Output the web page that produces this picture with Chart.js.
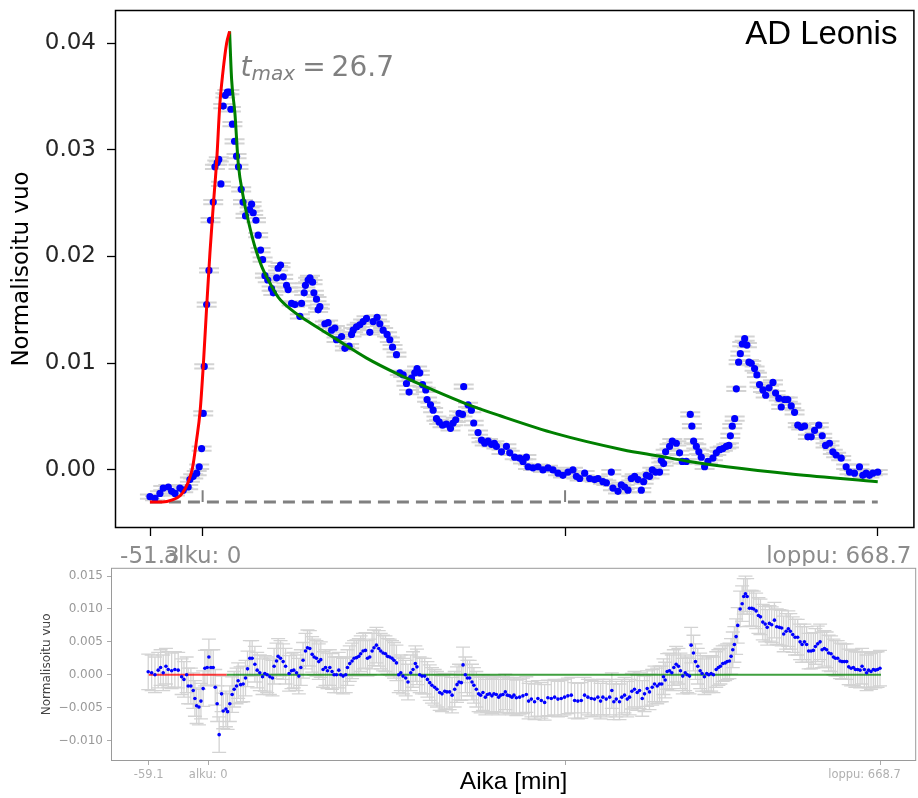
<!DOCTYPE html>
<html>
<head>
<meta charset="utf-8">
<script src="https://cdn.jsdelivr.net/npm/chart.js@4.4.1/dist/chart.umd.min.js"></script>
<style>
  html, body { margin: 0; padding: 0; background: #ffffff; }
  #wrap { position: relative; width: 918px; height: 798px; }
  canvas { position: absolute; left: 0; }
  #fluxChart { top: 0; }
  #residualChart { top: 566px; }
</style>
</head>
<body>
<div id="wrap">
  <canvas id="fluxChart" width="918" height="566"></canvas>
  <canvas id="residualChart" width="918" height="232"></canvas>
</div>
<script>
// ---- Light curve of the AD Leonis flare (time in minutes from flare start) ----
const fluxTime = [
  -52.2, -47.2, -42.3, -39.0, -34.0, -30.7, -27.4, -22.5, -19.2, -14.3, -12.6, -9.3, -5.9, -3.4, -1.0,
  0.6, 1.6, 4.0, 6.3, 7.8, 10.5, 12.2, 14.5, 16.0, 18.1, 20.4, 22.5, 24.5, 26.5, 28.0, 29.5, 31.6, 33.6,
  35.5, 38.2, 40.0, 42.5, 46.5, 48.5, 50.1, 52.8, 55.0, 57.4, 59.4, 61.7, 64.5, 68.3, 70.0, 73.3, 74.8,
  77.2, 79.8, 83.1, 84.7, 88.1, 91.4, 96.3, 98.0, 100.6, 101.8, 104.5, 106.3, 108.9, 110.2, 112.8, 114.4,
  116.1, 121.1, 124.3, 127.7, 131.0, 132.6, 137.6, 140.9, 145.1, 147.5, 149.1, 152.4, 155.7, 159.0, 162.3,
  165.6, 168.9, 172.8, 175.5, 178.8, 182.7, 185.4, 188.1, 192.0, 195.3, 198.6, 201.9, 204.5, 206.9, 210.1,
  212.4, 215.1, 217.8, 221.0, 222.3, 225.7, 228.3, 231.6, 234.2, 237.6, 241.5, 245.5, 248.1, 250.7, 254.0,
  257.4, 258.6, 262.9, 266.2, 268.5, 272.8, 276.2, 279.4, 282.7, 286.1, 289.0, 291.0, 296.0, 300.9, 304.2,
  309.1, 314.1, 317.3, 320.7, 322.3, 327.2, 332.2, 337.1, 342.1, 347.0, 352.0, 356.9, 361.9, 366.8, 370.2,
  373.5, 378.4, 383.4, 388.3, 391.6, 396.5, 399.9, 404.8, 406.4, 411.4, 414.7, 418.0, 421.3, 424.6, 427.9,
  431.2, 434.5, 436.8, 439.5, 442.7, 445.4, 448.7, 452.6, 454.3, 456.6, 458.6, 462.5, 465.2, 469.2, 472.4,
  475.1, 479.1, 483.0, 484.6, 486.3, 489.0, 491.5, 493.9, 497.2, 500.5, 505.4, 508.8, 512.1, 515.3, 518.7,
  521.3, 522.7, 524.6, 527.0, 528.6, 530.9, 532.6, 534.5, 536.9, 539.1, 541.1, 543.4, 546.7, 549.0, 551.6,
  555.0, 557.7, 561.0, 564.9, 567.5, 570.7, 573.1, 576.3, 579.6, 583.0, 586.3, 589.5, 592.9, 596.2, 599.5,
  602.8, 606.1, 610.3, 613.7, 617.0, 620.9, 624.2, 627.5, 632.5, 637.4, 640.7, 645.6, 650.6, 653.9, 657.2,
  660.5, 663.8, 668.7
];
const fluxValue = [
  -0.0025, -0.00265, -0.0022, -0.0017, -0.0016, -0.0020, -0.0022, -0.0017, -0.0019, -0.0016, -0.0009, -0.0006, -0.0003, 0.0003, 0.0020,
  0.0053, 0.0097, 0.0155, 0.0187, 0.0234, 0.0251, 0.0284, 0.0288, 0.0291, 0.0268, 0.0341, 0.0351, 0.0354, 0.0354, 0.0338, 0.0324, 0.0308, 0.0294,
  0.0284, 0.0263, 0.0251, 0.0238, 0.0244, 0.0249, 0.0241, 0.0234, 0.0220, 0.0206, 0.0197, 0.0182, 0.0178, 0.0170, 0.0166, 0.0180, 0.0189,
  0.0192, 0.0181, 0.0173, 0.0169, 0.0156, 0.0155, 0.0144, 0.0156, 0.0166, 0.0173, 0.0178, 0.0180, 0.0176, 0.0166, 0.0160, 0.0150,
  0.0153, 0.0137, 0.0138, 0.0131, 0.0133, 0.0122, 0.0125, 0.0114, 0.0116, 0.0127, 0.0131, 0.0134, 0.0136, 0.0139, 0.0142,
  0.0129, 0.0139, 0.0143, 0.0137, 0.0131, 0.0127, 0.0122, 0.0115, 0.0108, 0.0091, 0.0089, 0.0081, 0.0073, 0.0086, 0.0091,
  0.0095, 0.0091, 0.0080, 0.0075, 0.0066, 0.0061, 0.0056, 0.0048, 0.0045, 0.0042, 0.0043, 0.0039, 0.0044, 0.0047, 0.0053,
  0.0052, 0.0078, 0.0061, 0.0056, 0.0044, 0.0035, 0.0028, 0.0025, 0.0027, 0.0024, 0.0025, 0.0022, 0.0017, 0.0022, 0.0016,
  0.0012, 0.0011, 0.0008, 0.0012, 0.0003, 0.0002, 0.0003, 0.0000, 0.0002, 0.0000, -0.0003, -0.0005, -0.0002, 0.0000, -0.0006,
  -0.0008, -0.0003, -0.0008, -0.0009, -0.0008, -0.0011, -0.0012, -0.0002, -0.0017, -0.0020, -0.0014, -0.0016, -0.0019, -0.0008, -0.0006,
  -0.0009, -0.0019, -0.0011, -0.0005, -0.0006, 0.0000, -0.0002, -0.0002, 0.0009, 0.0006, 0.0017, 0.0022, 0.0027, 0.0025, 0.0016,
  0.0008, 0.0008, 0.0052, 0.0041, 0.0027, 0.0022, 0.0017, 0.0012, 0.0003, 0.0008, 0.0011, 0.0016, 0.0019, 0.0020, 0.0022,
  0.0023, 0.0032, 0.0041, 0.0048, 0.0076, 0.0101, 0.0109, 0.0118, 0.0123, 0.0117, 0.0101, 0.0100, 0.0095, 0.0089, 0.0080,
  0.0075, 0.0070, 0.0077, 0.0082, 0.0072, 0.0067, 0.0059, 0.0066, 0.0066, 0.0060, 0.0054, 0.0042, 0.0040, 0.0041, 0.0031,
  0.0031, 0.0037, 0.0042, 0.0032, 0.0023, 0.0025, 0.0017, 0.0014, 0.0011, 0.0003, -0.0002, -0.0003, 0.0003, -0.0005, -0.0003,
  -0.0005, -0.0003, -0.0002
];
const fluxError = 0.0002;

// Rising phase model (red) and decay model (green)
const riseFitTime  = [-52.2, -40, -30, -22, -17, -13, -10, -6, -2.5, 0.6, 4.0, 7.2, 10.5, 14.0, 17.0, 20.0, 23.8, 26.7];
const riseFitValue = [-0.0030, -0.0030, -0.0028, -0.0024, -0.0017, -0.0008, 0.0002, 0.0028, 0.0055, 0.0097, 0.0153, 0.0203, 0.0247, 0.0291, 0.0342, 0.0372, 0.0400, 0.0411];
const decayFitTime  = [26.7, 28.7, 32.0, 35.3, 40.2, 45.1, 51.8, 58.4, 65.0, 74.8, 88.0, 104.5, 130, 162, 195, 228, 261, 294, 350, 416, 452, 482, 519, 585, 668.7];
const decayFitValue = [0.0411, 0.0366, 0.0334, 0.0287, 0.0256, 0.0234, 0.0209, 0.0191, 0.0178, 0.0162, 0.0150, 0.0139, 0.0124, 0.0105, 0.0089, 0.0075, 0.0062, 0.0051, 0.0034, 0.0019, 0.0013, 0.0008, 0.0003, -0.0004, -0.0011];

const tMax = 26.7;
const quiescentLevel = -0.0030;
const quiescentStart = -52.2;
const quiescentEnd = 668.7;
const markerTimes = [0, 359];
const markerTop = -0.0019;

// Axis ticks of the light-curve panel
const fluxXTicks = [-51.3, 0, 359, 668.7];
const fluxXLabels = ['-51.3', 'alku: 0', '', 'loppu: 668.7'];
const fluxYTicks = [0, 0.01, 0.02, 0.03, 0.04];

// ---- Residuals (data minus model) ----
const residualTime = [
  -59.6, -56.2, -52.9, -49.7, -47.3, -44.7, -42.0, -39.7, -36.3, -33.1, -29.8, -26.4, -24.1, -21.4, -19.9, -17.2, -14.9, -13.2, -11.5, -9.2,
  -7.2, -5.0, -3.3, -1.0, 0.7, 2.7, 5.0, 7.0, 8.9, 10.9, 13.3, 14.9, 17.6, 19.3, 21.5, 23.8, 25.8, 28.2, 29.8, 32.2,
  34.8, 37.1, 39.1, 41.4, 43.7, 46.4, 48.7, 51.3, 54.0, 56.3, 58.6, 61.3, 63.9, 65.5, 67.9, 69.5, 71.9, 74.5, 76.9, 80.4,
  82.8, 85.1, 87.8, 90.1, 92.1, 94.3, 96.7, 98.7, 101.0, 103.3, 105.3, 107.6, 109.9, 111.9, 114.2, 116.6, 118.6, 120.9, 123.1, 125.1,
  127.5, 129.8, 131.8, 134.1, 136.7, 138.4, 140.7, 143.0, 145.0, 147.4, 149.7, 151.6, 153.9, 156.3, 158.3, 160.6, 162.9, 164.8, 167.2, 169.5,
  171.5, 173.8, 176.2, 178.2, 180.4, 182.7, 184.7, 187.1, 189.4, 191.4, 193.6, 196.3, 198.6, 201.3, 203.6, 205.9, 207.5, 210.2, 212.5, 215.2,
  217.9, 220.2, 222.4, 225.1, 227.4, 230.1, 232.4, 235.1, 237.3, 240.0, 242.4, 245.0, 247.3, 249.3, 251.6, 253.3, 255.6, 257.6, 259.9, 262.2,
  264.1, 266.5, 268.8, 270.8, 273.1, 275.5, 277.5, 279.7, 282.0, 284.0, 286.4, 288.7, 290.7, 293.0, 295.3, 297.3, 299.6, 301.9, 303.9, 306.3,
  309.5, 312.8, 316.2, 318.5, 321.2, 324.4, 327.7, 331.1, 334.4, 337.6, 341.0, 344.3, 347.6, 350.9, 354.2, 357.5, 360.9, 364.2, 367.4, 370.8,
  374.1, 377.4, 380.8, 384.0, 387.3, 390.0, 392.3, 395.6, 399.0, 401.2, 403.2, 405.6, 408.8, 411.1, 413.8, 416.5, 418.8, 421.1, 423.7, 426.4,
  428.7, 431.4, 433.7, 436.3, 438.6, 441.3, 443.6, 446.3, 448.6, 450.8, 452.5, 454.2, 456.2, 458.5, 460.8, 462.8, 465.1, 467.4, 469.4, 471.7,
  474.1, 476.1, 478.4, 480.0, 482.3, 484.3, 486.6, 489.0, 490.9, 493.2, 495.5, 497.5, 499.9, 502.2, 504.9, 507.1, 509.1, 511.4, 513.8, 515.8,
  518.1, 519.7, 521.4, 523.0, 524.7, 526.3, 528.7, 530.7, 532.3, 534.0, 535.7, 537.9, 540.2, 542.2, 544.6, 546.9, 548.9, 551.2, 553.6, 555.6,
  557.8, 560.1, 562.8, 565.1, 567.7, 570.0, 572.0, 574.4, 576.6, 578.6, 581.0, 583.3, 585.9, 588.3, 590.3, 592.6, 594.8, 596.8, 599.2, 601.5,
  603.5, 605.8, 608.2, 610.2, 612.5, 614.7, 616.7, 619.1, 621.4, 623.4, 625.7, 628.0, 630.0, 632.3, 634.6, 636.6, 639.0, 641.3, 643.3, 645.5,
  647.9, 649.9, 652.2, 654.4, 656.4, 658.8, 661.1, 663.1, 665.3, 667.7
];
const residualValue = [
  0.00045, 0.0003, 0.0000, 0.0007, 0.0011, 0.0003, 0.0013, 0.0008, 0.0006, 0.0008, 0.0007, -0.0003, -0.0007, 0.0000, -0.0017, -0.0017, -0.0024, -0.0036, -0.0047, -0.0049,
  -0.0040, -0.0021, 0.0010, 0.0011, 0.0027, 0.0011, 0.0011, -0.0019, -0.0044, -0.0091, -0.0029, -0.0055, -0.0052, -0.0056, -0.0044, -0.0030, -0.0022, -0.0017, -0.0009, -0.0015,
  -0.0014, -0.0005, 0.0009, 0.0025, 0.0025, 0.0016, 0.0007, 0.0003, -0.0003, 0.0002, 0.0000, -0.0003, -0.0005, 0.0013, 0.0021, 0.0028, 0.0025, 0.0020, 0.0013, 0.0002,
  0.0006, 0.0007, 0.0003, -0.0002, 0.0011, 0.0022, 0.0036, 0.0041, 0.0040, 0.0031, 0.0027, 0.0025, 0.0020, 0.0023, 0.0008, 0.0011, 0.0006, 0.0011, 0.0005, 0.0000,
  0.0000, 0.0007, 0.0000, -0.0002, 0.0000, 0.0011, 0.0017, 0.0021, 0.0025, 0.0026, 0.0028, 0.0032, 0.0036, 0.0037, 0.0025, 0.0027, 0.0036, 0.0041, 0.0045, 0.0040,
  0.0036, 0.0033, 0.0032, 0.0028, 0.0027, 0.0025, 0.0022, 0.0018, 0.0000, 0.0003, -0.0002, -0.0005, -0.0011, 0.0003, 0.0008, 0.0017, 0.0012, 0.0000, -0.0002, -0.0002,
  -0.0007, -0.0012, -0.0016, -0.0019, -0.0022, -0.0027, -0.0029, -0.0025, -0.0026, -0.0026, -0.0031, -0.0022, -0.0015, -0.0011, -0.0012, 0.0015, 0.0000, -0.0005, -0.0005, -0.0011,
  -0.0016, -0.0022, -0.0029, -0.0031, -0.0027, -0.0034, -0.0030, -0.0029, -0.0032, -0.0029, -0.0030, -0.0034, -0.0031, -0.0030, -0.0026, -0.0031, -0.0032, -0.0034, -0.0031, -0.0035,
  -0.0034, -0.0032, -0.0030, -0.0040, -0.0037, -0.0041, -0.0036, -0.0039, -0.0042, -0.0035, -0.0036, -0.0034, -0.0037, -0.0036, -0.0034, -0.0032, -0.0031, -0.0039, -0.0040, -0.0039,
  -0.0031, -0.0034, -0.0036, -0.0037, -0.0034, -0.0040, -0.0034, -0.0037, -0.0034, -0.0024, -0.0041, -0.0037, -0.0041, -0.0034, -0.0031, -0.0037, -0.0034, -0.0025, -0.0022, -0.0027,
  -0.0024, -0.0036, -0.0029, -0.0021, -0.0026, -0.0019, -0.0014, -0.0017, -0.0014, -0.0014, -0.0003, -0.0008, 0.0005, 0.0006, 0.0003, 0.0011, 0.0016, 0.0013, 0.0006, -0.0002,
  0.0003, 0.0000, -0.0002, 0.0045, 0.0033, 0.0020, 0.0013, 0.0006, 0.0002, -0.0003, 0.0002, 0.0000, 0.0002, 0.0000, 0.0008, 0.0011, 0.0013, 0.0017, 0.0018, 0.0020,
  0.0021, 0.0028, 0.0038, 0.0046, 0.0058, 0.0075, 0.0100, 0.0108, 0.0119, 0.0123, 0.0119, 0.0101, 0.0101, 0.0100, 0.0097, 0.0090, 0.0088, 0.0080, 0.0077, 0.0072,
  0.0078, 0.0076, 0.0083, 0.0073, 0.0072, 0.0071, 0.0062, 0.0066, 0.0070, 0.0066, 0.0061, 0.0057, 0.0057, 0.0050, 0.0046, 0.0050, 0.0046, 0.0036, 0.0036, 0.0037,
  0.0043, 0.0047, 0.0050, 0.0038, 0.0040, 0.0038, 0.0033, 0.0032, 0.0027, 0.0025, 0.0025, 0.0021, 0.0020, 0.0020, 0.0020, 0.0012, 0.0010, 0.0011, 0.0008, 0.0008,
  0.0007, 0.0013, 0.0008, 0.0003, 0.0007, 0.0005, 0.0008, 0.0007, 0.0008, 0.0010
];
const residualError = 0.0027;
const residualRiseEnd = 18.3;
const residualStart = -59.1;
const residualEnd = 668.7;

// Axis ticks of the residual panel
const residualXTicks = [-59.1, 0, 355, 668.7];
const residualXLabels = ['-59.1', 'alku: 0', '', 'loppu: 668.7'];
const residualYTicks = [-0.010, -0.005, 0, 0.005, 0.010, 0.015];

// ---- helpers ----
const toPoints = (xs, ys) => xs.map((x, i) => ({ x: x, y: ys[i] }));
const fixedTicks = values => scale => { scale.ticks = values.map(v => ({ value: v })); };

// Vertical error bars with caps, drawn underneath the datasets
const errorBarPlugin = {
  id: 'errorBars',
  beforeDatasetsDraw(chart, args, opts) {
    const ds = chart.data.datasets[opts.datasetIndex];
    const xs = chart.scales.x, ys = chart.scales.y, a = chart.chartArea;
    const ctx = chart.ctx;
    ctx.save();
    ctx.beginPath();
    ctx.rect(a.left, a.top, a.right - a.left, a.bottom - a.top);
    ctx.clip();
    ctx.strokeStyle = opts.color;
    ctx.lineWidth = opts.lineWidth;
    ds.data.forEach(p => {
      const x = xs.getPixelForValue(p.x);
      const yHi = ys.getPixelForValue(p.y + opts.error);
      const yLo = ys.getPixelForValue(p.y - opts.error);
      ctx.beginPath();
      ctx.moveTo(x, yLo); ctx.lineTo(x, yHi);
      ctx.moveTo(x - opts.cap, yLo); ctx.lineTo(x + opts.cap, yLo);
      ctx.moveTo(x - opts.cap, yHi); ctx.lineTo(x + opts.cap, yHi);
      ctx.stroke();
    });
    ctx.restore();
  }
};

// Plot frame, custom x tick labels and annotations
const decorPlugin = {
  id: 'decor',
  afterDraw(chart, args, o) {
    const ctx = chart.ctx, a = chart.chartArea, xs = chart.scales.x;
    ctx.save();
    // frame
    ctx.strokeStyle = o.frameColor;
    ctx.lineWidth = o.frameWidth;
    ctx.strokeRect(a.left + 0.5, a.top + 0.5, a.right - a.left - 1, a.bottom - a.top - 1);
    // x tick labels
    ctx.fillStyle = o.xLabelColor;
    ctx.font = o.xLabelFont;
    ctx.textAlign = 'center';
    ctx.textBaseline = 'alphabetic';
    o.xTicks.forEach((v, i) => {
      ctx.fillText(o.xLabels[i], xs.getPixelForValue(v) + o.xLabelShift[i], o.xLabelBaseline);
    });
    // y axis title
    ctx.save();
    ctx.translate(o.yTitleX, (a.top + a.bottom) / 2);
    ctx.rotate(-Math.PI / 2);
    ctx.fillStyle = o.yTitleColor;
    ctx.font = o.yTitleFont;
    ctx.textAlign = 'center';
    ctx.textBaseline = 'middle';
    ctx.fillText('Normalisoitu vuo', 0, 0);
    ctx.restore();
    if (o.extra) o.extra(chart, ctx);
    ctx.restore();
  }
};

// ---- Light-curve panel ----
new Chart(document.getElementById('fluxChart'), {
  type: 'scatter',
  data: {
    datasets: [
      { // 0: observed flux
        data: toPoints(fluxTime, fluxValue),
        pointRadius: 3.6, pointHoverRadius: 3.6, borderWidth: 0,
        backgroundColor: '#0000ff', order: 2
      },
      { // 1: quiescent level
        data: [{ x: quiescentStart, y: quiescentLevel }, { x: quiescentEnd, y: quiescentLevel }],
        showLine: true, pointRadius: 0, borderColor: '#808080', borderWidth: 3,
        borderDash: [12, 7], order: 3
      },
      { // 2: start / middle markers on the quiescent level
        data: [
          { x: markerTimes[0], y: quiescentLevel }, { x: markerTimes[0], y: markerTop }, { x: markerTimes[0], y: null },
          { x: markerTimes[1], y: quiescentLevel }, { x: markerTimes[1], y: markerTop }
        ],
        showLine: true, spanGaps: false, pointRadius: 0, borderColor: '#808080', borderWidth: 2, order: 3
      },
      { // 3: rise model
        data: toPoints(riseFitTime, riseFitValue),
        showLine: true, pointRadius: 0, borderColor: '#ff0000', borderWidth: 3,
        cubicInterpolationMode: 'monotone', order: 1
      },
      { // 4: decay model
        data: toPoints(decayFitTime, decayFitValue),
        showLine: true, pointRadius: 0, borderColor: '#008000', borderWidth: 3,
        cubicInterpolationMode: 'monotone', order: 1
      }
    ]
  },
  options: {
    responsive: false, animation: false, devicePixelRatio: 1,
    layout: { padding: { left: 0, right: 3, top: 10, bottom: 0 } },
    plugins: {
      legend: { display: false }, tooltip: { enabled: false },
      errorBars: { datasetIndex: 0, error: fluxError, cap: 10, lineWidth: 2, color: '#d3d3d3' },
      decor: {
        frameColor: '#000000', frameWidth: 1.5,
        xTicks: fluxXTicks, xLabels: fluxXLabels, xLabelShift: [-1, 0, 0, -39],
        xLabelColor: '#8c8c8c', xLabelFont: '23px "DejaVu Sans"', xLabelBaseline: 563,
        yTitleX: 22, yTitleColor: '#000000', yTitleFont: '23px "DejaVu Sans"',
        extra(chart, ctx) {
          const a = chart.chartArea, xs = chart.scales.x, ys = chart.scales.y;
          // star name
          ctx.fillStyle = '#000000';
          ctx.font = '33px "Liberation Sans"';
          ctx.textAlign = 'right';
          ctx.textBaseline = 'alphabetic';
          ctx.fillText('AD Leonis', a.right - 17, a.top + 34);
          // peak time annotation
          const x0 = xs.getPixelForValue(tMax) + 11;
          const y0 = ys.getPixelForValue(riseFitValue[riseFitValue.length - 1]) + 45;
          ctx.fillStyle = '#808080';
          ctx.textAlign = 'left';
          ctx.font = 'italic 28px "DejaVu Sans"';
          ctx.fillText('t', x0, y0);
          let x = x0 + ctx.measureText('t').width;
          ctx.font = 'italic 20px "DejaVu Sans"';
          ctx.fillText('max', x, y0 + 3.5);
          x += ctx.measureText('max').width + 7;
          ctx.font = '28px "DejaVu Sans"';
          ctx.fillText('=', x, y0);
          x += ctx.measureText('=').width + 6;
          ctx.fillText(String(tMax), x, y0);
        }
      }
    },
    scales: {
      x: {
        type: 'linear', min: -86.8, max: 705,
        afterBuildTicks: fixedTicks(fluxXTicks),
        afterFit(s) { s.height = 38; s.paddingLeft = 0; s.paddingRight = 0; },
        ticks: { display: false },
        grid: { drawOnChartArea: false, drawTicks: true, tickLength: 8, color: '#000000', tickWidth: 1.3 },
        border: { display: false }
      },
      y: {
        type: 'linear', min: -0.00544, max: 0.0431,
        afterBuildTicks: fixedTicks(fluxYTicks),
        afterFit(s) { s.width = 115; s.paddingTop = 0; s.paddingBottom = 0; },
        ticks: {
          padding: 11, color: '#262626',
          font: { family: 'DejaVu Sans', size: 23 },
          callback: v => v.toFixed(2)
        },
        grid: { drawOnChartArea: false, drawTicks: true, tickLength: 8, color: '#000000', tickWidth: 1.3 },
        border: { display: false }
      }
    }
  },
  plugins: [errorBarPlugin, decorPlugin]
});

// ---- Residual panel ----
new Chart(document.getElementById('residualChart'), {
  type: 'scatter',
  data: {
    datasets: [
      { // 0: residuals
        data: toPoints(residualTime, residualValue),
        pointRadius: 1.8, pointHoverRadius: 1.8, borderWidth: 0,
        backgroundColor: '#0000ff', order: 1
      },
      { // 1: zero line over the rise
        data: [{ x: residualStart, y: 0 }, { x: residualRiseEnd, y: 0 }],
        showLine: true, pointRadius: 0, borderColor: 'rgba(255,0,0,0.75)', borderWidth: 2, order: 2
      },
      { // 2: zero line over the decay
        data: [{ x: residualRiseEnd, y: 0 }, { x: residualEnd, y: 0 }],
        showLine: true, pointRadius: 0, borderColor: 'rgba(0,128,0,0.75)', borderWidth: 2, order: 2
      }
    ]
  },
  options: {
    responsive: false, animation: false, devicePixelRatio: 1,
    layout: { padding: { left: 0, right: 1, top: 0, bottom: 0 } },
    plugins: {
      legend: { display: false }, tooltip: { enabled: false },
      errorBars: { datasetIndex: 0, error: residualError, cap: 7, lineWidth: 1.3, color: '#d3d3d3' },
      decor: {
        frameColor: '#9a9a9a', frameWidth: 1,
        xTicks: residualXTicks, xLabels: residualXLabels, xLabelShift: [0, 0, 0, -16.5],
        xLabelColor: '#b0b0b0', xLabelFont: '11.5px "DejaVu Sans"', xLabelBaseline: 212,
        yTitleX: 47, yTitleColor: '#444444', yTitleFont: '12px "DejaVu Sans"',
        extra(chart, ctx) {
          const a = chart.chartArea;
          ctx.fillStyle = '#000000';
          ctx.font = '24.5px "Liberation Sans"';
          ctx.textAlign = 'center';
          ctx.textBaseline = 'alphabetic';
          ctx.fillText('Aika [min]', (a.left + a.right) / 2, 223);
        }
      }
    },
    scales: {
      x: {
        type: 'linear', min: -96.6, max: 703.7,
        afterBuildTicks: fixedTicks(residualXTicks),
        afterFit(s) { s.height = 37; s.paddingLeft = 0; s.paddingRight = 0; },
        ticks: { display: false },
        grid: { drawOnChartArea: false, drawTicks: true, tickLength: 4, color: '#aaaaaa', tickWidth: 1 },
        border: { display: false }
      },
      y: {
        type: 'linear', min: -0.0131, max: 0.01625,
        afterBuildTicks: fixedTicks(residualYTicks),
        afterFit(s) { s.width = 111; s.paddingTop = 0; s.paddingBottom = 0; },
        ticks: {
          padding: 4, color: '#999999',
          font: { family: 'DejaVu Sans', size: 12 },
          callback: v => (v < 0 ? '\u2212' : '') + Math.abs(v).toFixed(3)
        },
        grid: { drawOnChartArea: false, drawTicks: true, tickLength: 4, color: '#aaaaaa', tickWidth: 1 },
        border: { display: false }
      }
    }
  },
  plugins: [errorBarPlugin, decorPlugin]
});
</script>
</body>
</html>
